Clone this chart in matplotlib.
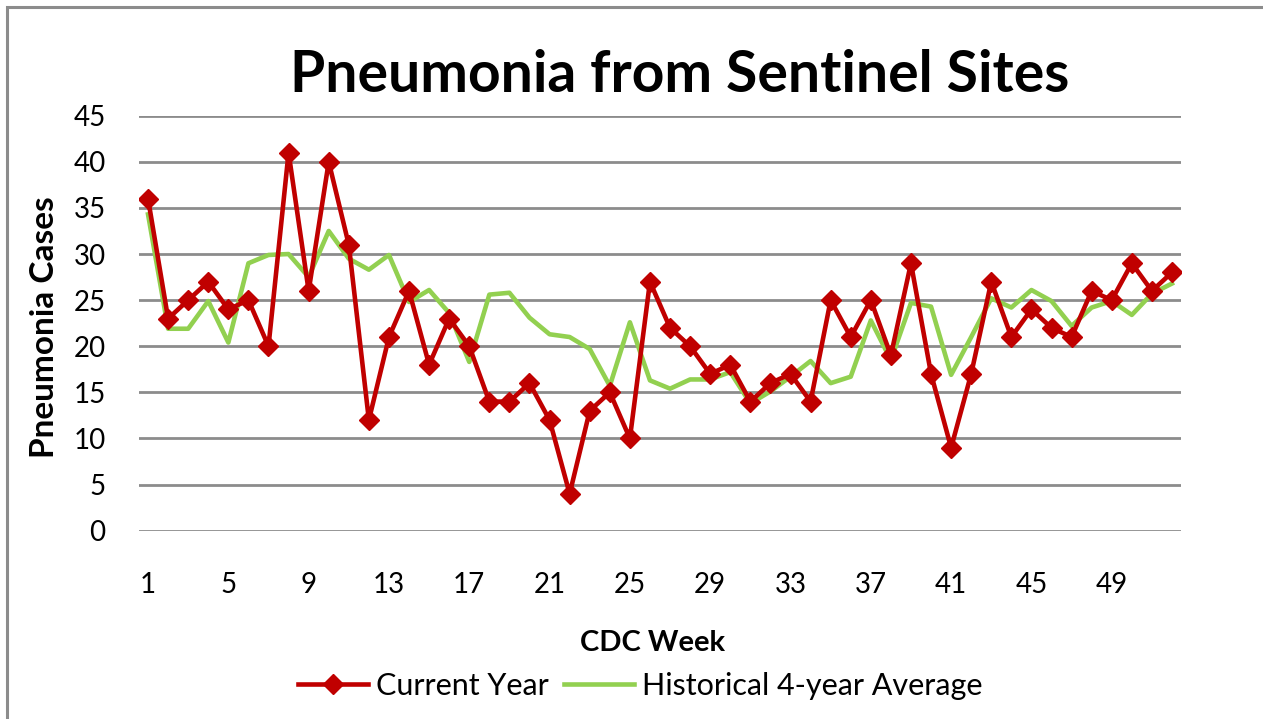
import numpy as np
import matplotlib
matplotlib.use('Agg')
import matplotlib.pyplot as plt
from matplotlib.patches import Rectangle

weeks = list(range(1, 53))
current_year = [36, 23, 25, 27, 24, 25, 20, 41, 26, 40,
                31, 12, 21, 26, 18, 23, 20, 14, 14, 16,
                12, 4, 13, 15, 10, 27, 22, 20, 17, 18,
                14, 16, 17, 14, 25, 21, 25, 19, 29, 17,
                9, 17, 27, 21, 24, 22, 21, 26, 25, 29,
                26, 28]
historical_avg = [34.3, 21.9, 21.9, 24.9, 20.4, 29.0, 29.9, 30.0, 27.5, 32.5,
                  29.5, 28.3, 29.9, 24.8, 26.1, 23.6, 18.3, 25.6, 25.8, 23.1,
                  21.3, 21.0, 19.7, 15.7, 22.6, 16.3, 15.4, 16.4, 16.4, 17.2,
                  13.8, 15.1, 16.7, 18.4, 16.0, 16.7, 22.8, 18.5, 24.7, 24.3,
                  16.9, 21.0, 25.2, 24.2, 26.1, 24.9, 22.2, 24.2, 24.9, 23.4,
                  25.7, 26.8]
x_ticks = list(range(1, 53, 4))
y_ticks = list(range(0, 50, 5))

W, H = 1263, 719
fig = plt.figure(figsize=(W / 100, H / 100), dpi=100)
ax = fig.add_axes([139 / W, 1 - 530.7 / H, (1181 - 139) / W, (530.7 - 115.7) / H])

# chart border (only top and left show in the picture)
fig.patches.append(Rectangle((7 / W, -0.05), 1.1, (H - 7) / H + 0.05, transform=fig.transFigure,
                             fill=False, edgecolor='#8c8c8c', linewidth=2.2))

ax.plot(weeks, current_year, color='#c00000', linewidth=3.3, marker='D', markersize=10,
        label='Current Year', zorder=3)
ax.plot(weeks, historical_avg, color='#92d050', linewidth=3.3, label='Historical 4-year Average', zorder=2)

ax.set_xlim(0.55, 52.45)
ax.set_ylim(0, 45)
ax.set_yticks(y_ticks)
ax.set_xticks(x_ticks)
ax.grid(axis='y', color='#8c8c8c', linewidth=2)
ax.set_axisbelow(True)
for s in ax.spines.values():
    s.set_visible(False)
ax.tick_params(length=0)
ax.tick_params(axis='x', pad=30)
ax.tick_params(axis='y', pad=24)
for lab in ax.get_yticklabels() + ax.get_xticklabels():
    lab.set_fontfamily('Lato')
    lab.set_fontsize(20)

fig.text(680 / W, 1 - 75 / H, 'Pneumonia from Sentinel Sites', ha='center', va='center',
         fontfamily='Lato', fontweight='bold', fontsize=41)
fig.text(45 / W, 1 - 327 / H, 'Pneumonia Cases', ha='center', va='center', rotation=90,
         fontfamily='Lato', fontweight='bold', fontsize=24)
fig.text(653 / W, 1 - 643 / H, 'CDC Week', ha='center', va='center',
         fontfamily='Lato', fontweight='bold', fontsize=21)

fig.legend(loc='center', bbox_to_anchor=(640 / W, 1 - 686 / H), ncol=2, frameon=False,
           prop={'family': 'Lato', 'size': 22}, handlelength=2.3, columnspacing=0.5,
           handletextpad=0.25)

fig.savefig('out.png', dpi=100)
